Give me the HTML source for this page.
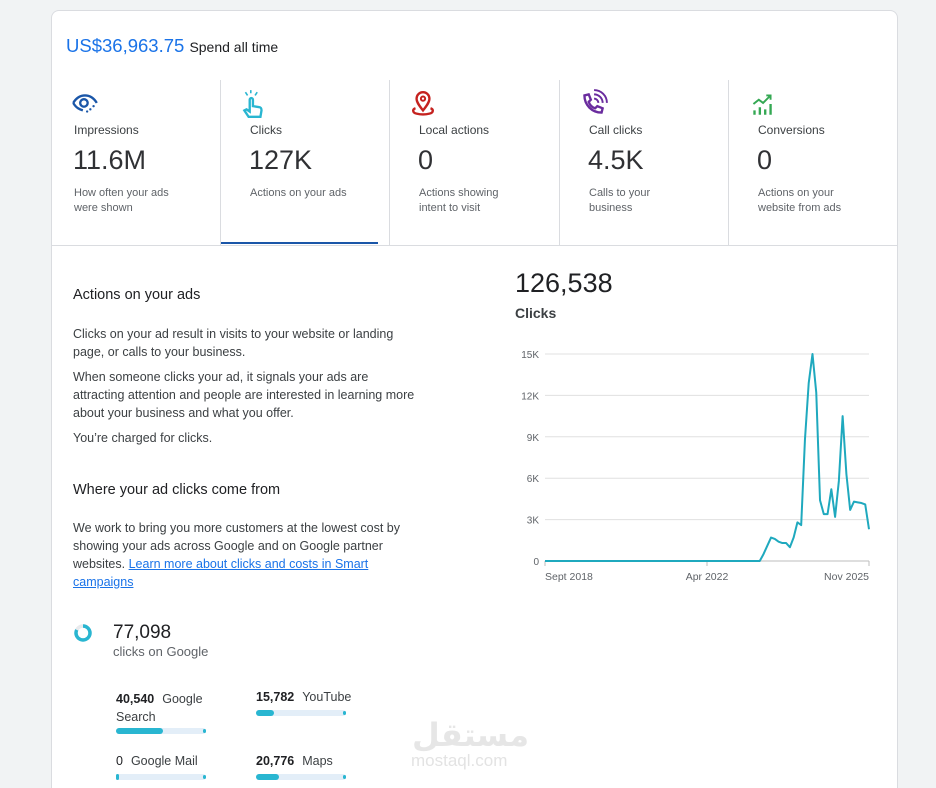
<!DOCTYPE html>
<html style="width:936px;height:788px;overflow:hidden"><head><meta charset="utf-8">
<style>
html,body{margin:0;width:936px;height:788px;overflow:hidden}
body{background:#f1f3f4;font-family:"Liberation Sans",sans-serif;color:#202124;position:relative}
.card{position:absolute;left:51px;top:10px;width:845px;height:778px;background:#fff;border:1px solid #dadce0;border-bottom:none;border-radius:8px 8px 0 0}
.a{position:absolute;white-space:nowrap}
.tile{position:absolute;top:80px;height:165px;width:169px}
.tile .lbl{position:absolute;left:22px;top:43px;font-size:12px;color:#3c4043}
.tile .val{position:absolute;left:21px;top:65px;font-size:27px;color:#303134}
.tile .desc{position:absolute;left:22px;top:106px;font-size:11px;color:#5f6368;line-height:15px;white-space:normal;width:108px}
.tile svg{position:absolute;left:18px;top:9px}
.sep{position:absolute;top:80px;width:1px;height:165px;background:#dadce0}
p.t{position:absolute;margin:0;font-size:12.5px;line-height:18px;color:#3c4043;width:345px}
.bar{position:absolute;height:6px;width:90px;background:#e3eef8;border-radius:3px}
.bar i{position:absolute;left:0;top:0;height:6px;background:#29b6d1;border-radius:3px}
.bar b{position:absolute;right:0;top:1px;width:3px;height:4px;background:#29b6d1;border-radius:2px}
.st{position:absolute;font-size:12.5px;color:#3c4043}
.st b{color:#202124;font-weight:bold;margin-right:8px}
</style></head><body>
<div class="card"></div>
<div class="a" style="left:66px;top:35px;font-size:18.5px;color:#1a73e8">US$36,963.75 <span style="font-size:14px;color:#202124">Spend all time</span></div>

<div class="tile" style="left:52px">
<svg width="30" height="30" viewBox="0 0 28 28"><path d="M3 13c3-5 7-7 11-7s8 2 11 7" fill="none" stroke="#1a56a8" stroke-width="2.2"/><path d="M3 13c3 5 6 6 9 7" fill="none" stroke="#1a56a8" stroke-width="2.2"/><circle cx="13" cy="13" r="3.5" fill="none" stroke="#1a56a8" stroke-width="2.2"/><circle cx="19" cy="19" r="1.1" fill="#1a56a8"/><circle cx="22" cy="16" r="1.1" fill="#1a56a8"/><circle cx="16" cy="21" r="1.1" fill="#1a56a8"/></svg>
<div class="lbl">Impressions</div><div class="val">11.6M</div><div class="desc">How often your ads were shown</div></div>
<div class="sep" style="left:220px"></div>
<div class="tile" style="left:221px">
<svg width="30" height="30" viewBox="0 0 28 28"><path d="M9 26l-4-6 2-1 3 2V10a1.5 1.5 0 013 0v6l6 1c1 0 2 1 2 3l-1 6z" fill="none" stroke="#29b6d1" stroke-width="2.2"/><path d="M6 3l2 3M17 3l-2 3M11 1v3" stroke="#29b6d1" stroke-width="1.5"/></svg>
<div class="lbl" style="left:29px">Clicks</div><div class="val" style="left:28px">127K</div><div class="desc" style="left:29px">Actions on your ads</div>
<div style="position:absolute;left:0;top:162px;width:157px;height:2px;background:#1a56a8"></div></div>
<div class="sep" style="left:389px"></div>
<div class="tile" style="left:390px">
<svg width="30" height="30" viewBox="0 0 28 28"><path d="M14 20c-4-5-6-8-6-11a6 6 0 0112 0c0 3-2 6-6 11z" fill="none" stroke="#c5221f" stroke-width="2.2"/><circle cx="14" cy="9" r="2" fill="none" stroke="#c5221f" stroke-width="1.8"/><path d="M7 18c-3 1-3 4 1 5 4 1 8 1 12 0 4-1 4-4 1-5" fill="none" stroke="#c5221f" stroke-width="2.2"/></svg>
<div class="lbl" style="left:29px">Local actions</div><div class="val" style="left:28px">0</div><div class="desc" style="left:29px">Actions showing intent to visit</div></div>
<div class="sep" style="left:559px"></div>
<div class="tile" style="left:560px">
<svg width="30" height="30" viewBox="0 0 28 28"><path d="M6 6l4-1 2 5-2 2c1 3 3 5 6 6l2-2 5 2-1 4c-9 0-16-7-16-16z" fill="none" stroke="#6a2c9e" stroke-width="2.2"/><path d="M15 9a4 4 0 014 4M15 5a8 8 0 018 8M15 1a12 12 0 0112 12" fill="none" stroke="#6a2c9e" stroke-width="1.8"/></svg>
<div class="lbl" style="left:29px">Call clicks</div><div class="val" style="left:28px">4.5K</div><div class="desc" style="left:29px;width:90px">Calls to your business</div></div>
<div class="sep" style="left:728px"></div>
<div class="tile" style="left:729px">
<svg width="30" height="30" viewBox="0 0 28 28"><path d="M7 24v-4M12 24v-7M17 24v-5M22 24v-10" stroke="#34a853" stroke-width="2.2"/><path d="M6 14l5-4 4 3 6-6M18 6h4v4" fill="none" stroke="#34a853" stroke-width="1.8"/></svg>
<div class="lbl" style="left:29px">Conversions</div><div class="val" style="left:28px">0</div><div class="desc" style="left:29px;width:96px">Actions on your website from ads</div></div>
<div style="position:absolute;left:52px;top:245px;width:845px;height:1px;background:#dadce0"></div>

<div class="a" style="left:73px;top:287px;font-size:14.5px">Actions on your ads</div>
<p class="t" style="left:73px;top:325px">Clicks on your ad result in visits to your website or landing page, or calls to your business.</p>
<p class="t" style="left:73px;top:368px">When someone clicks your ad, it signals your ads are attracting attention and people are interested in learning more about your business and what you offer.</p>
<p class="t" style="left:73px;top:429px">You’re charged for clicks.</p>
<div class="a" style="left:73px;top:482px;font-size:14.5px">Where your ad clicks come from</div>
<p class="t" style="left:73px;top:519px">We work to bring you more customers at the lowest cost by showing your ads across Google and on Google partner websites. <a href="#" style="color:#1a73e8">Learn more about clicks and costs in Smart campaigns</a></p>

<svg style="position:absolute;left:73px;top:623px" width="20" height="20"><circle cx="10" cy="10" r="7" fill="none" stroke="#e8eaed" stroke-width="3.5"/><circle cx="10" cy="10" r="7" fill="none" stroke="#29b6d1" stroke-width="3.5" stroke-dasharray="36 44" transform="rotate(-90 10 10)"/></svg>
<div class="a" style="left:113px;top:622px;font-size:19px">77,098</div>
<div class="a" style="left:113px;top:644px;font-size:13px;color:#5f6368">clicks on Google</div>

<div class="st" style="left:116px;top:690px;width:110px;line-height:18px"><b>40,540</b>Google Search</div>
<div class="bar" style="left:116px;top:728px"><i style="width:47px"></i><b></b></div>
<div class="st" style="left:256px;top:690px"><b>15,782</b>YouTube</div>
<div class="bar" style="left:256px;top:710px"><i style="width:18px"></i><b></b></div>
<div class="st" style="left:116px;top:754px"><b style="font-weight:normal">0</b>Google Mail</div>
<div class="bar" style="left:116px;top:774px"><i style="width:3px"></i><b></b></div>
<div class="st" style="left:256px;top:754px"><b>20,776</b>Maps</div>
<div class="bar" style="left:256px;top:774px"><i style="width:23px"></i><b></b></div>

<div class="a" style="left:412px;top:716px;font-size:32px;color:#e6e6e6;font-weight:bold;font-family:'DejaVu Sans',sans-serif">مستقل</div>
<div class="a" style="left:411px;top:751px;font-size:17px;color:#e3e3e3">mostaql.com</div>

<div class="a" style="left:515px;top:268px;font-size:27px">126,538</div>
<div class="a" style="left:515px;top:305px;font-size:14px;font-weight:bold;color:#3c4043">Clicks</div>
<svg id="chart" style="position:absolute;left:0;top:0" width="936" height="788"></svg>
<script>
const yTicks=[0,3000,6000,9000,12000,15000];
const yTickLabels=["0","3K","6K","9K","12K","15K"];
const xTickIdx=[0,43,86];
const xTickLabels=["Sept 2018","Apr 2022","Nov 2025"];
const clicks=[0,0,0,0,0,0,0,0,0,0,0,0,0,0,0,0,0,0,0,0,0,0,0,0,0,0,0,0,0,0,0,0,0,0,0,0,0,0,0,0,0,0,0,0,0,0,0,0,0,0,0,0,0,0,0,0,0,0,
500,1100,1700,1600,1400,1300,1300,1000,1700,2800,2600,8800,12900,15000,12200,4400,3400,3400,5200,3200,5800,10500,6300,3700,4300,4250,4200,4100,2300];
const svg=document.getElementById('chart');const NS='http://www.w3.org/2000/svg';
const X0=545,X1=869,Y0=561,Y1=354;
const xs=i=>X0+(X1-X0)*i/(clicks.length-1);
const ys=v=>Y0-(Y0-Y1)*v/15000;
function mk(t,a){const e=document.createElementNS(NS,t);for(const k in a)e.setAttribute(k,a[k]);svg.appendChild(e);return e;}
yTicks.forEach((v,i)=>{
 const g=mk('line',{x1:X0,x2:X1,y1:ys(v),y2:ys(v),stroke:v?'#e0e0e0':'#bdbdbd','stroke-width':1});
 
 
 const t=mk('text',{x:X0-6,y:ys(v)+4,'text-anchor':'end','font-size':10,fill:'#5f6368','font-family':'Liberation Sans'});
 t.textContent=yTickLabels[i];
 
 
});
xTickIdx.forEach((idx,i)=>{
 const l=mk('line',{x1:xs(idx),x2:xs(idx),y1:Y0,y2:Y0+5,stroke:'#bdbdbd'});
 
 
 const t=mk('text',{x:xs(idx),y:Y0+19,'text-anchor':i==0?'start':i==2?'end':'middle','font-size':10.5,fill:'#5f6368','font-family':'Liberation Sans'});
 t.textContent=xTickLabels[i];
 
 
});
const p=mk('polyline',{points:clicks.map((v,i)=>xs(i)+','+ys(v)).join(' '),fill:'none',stroke:'#1fa9be','stroke-width':2,'stroke-linejoin':'round'});


</script>
</body></html>
